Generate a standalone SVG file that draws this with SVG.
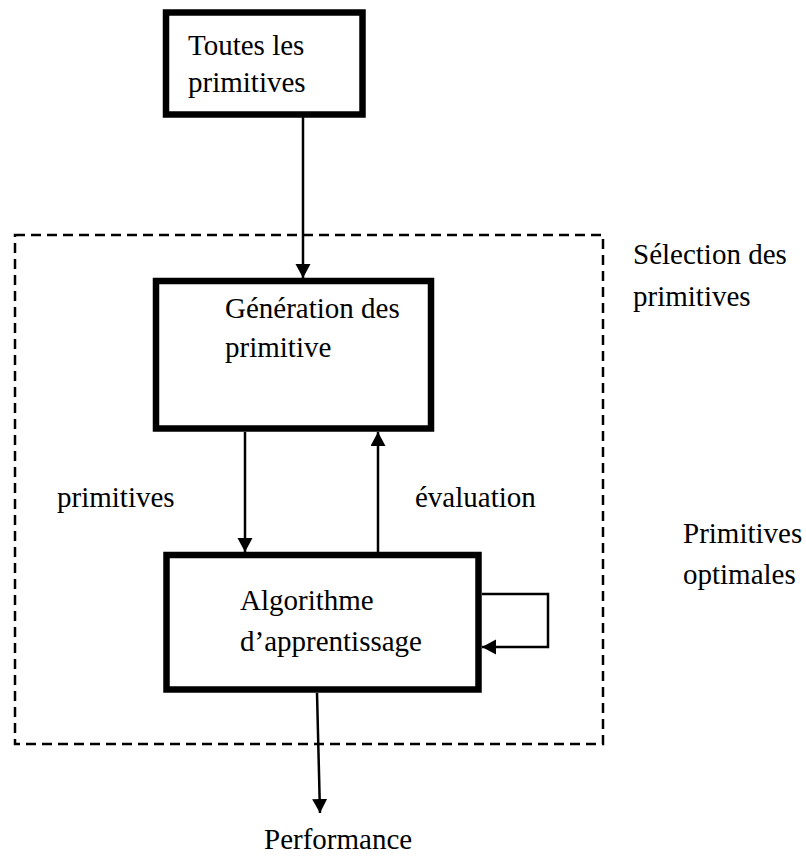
<svg xmlns="http://www.w3.org/2000/svg" width="806" height="857" viewBox="0 0 806 857">
<style>
.box{fill:#fff;stroke:#000;stroke-width:6.5}
.t{font-family:"Liberation Serif","Times New Roman",serif;font-size:29px;fill:#000}
.c{fill:none;stroke:#000;stroke-width:2.5}
.d{fill:none;stroke:#000;stroke-width:2.5;stroke-dasharray:10 6}
</style>
<defs>
<marker id="ah" markerUnits="userSpaceOnUse" markerWidth="16" markerHeight="16" refX="14" refY="7.5" orient="auto">
<path d="M0,0 L14,7.5 L0,15 Z" fill="#000"/>
</marker>
</defs>
<g id="selection">
<rect class="d" x="15" y="235" width="588" height="509"/>
<text class="t" x="633" y="264">Sélection des</text>
<text class="t" x="633" y="306">primitives</text>
</g>
<g id="toutes">
<rect class="box" x="166" y="12.5" width="196.5" height="102"/>
<text class="t" x="188" y="55">Toutes les</text>
<text class="t" x="188" y="92">primitives</text>
</g>
<g id="generation">
<rect class="box" x="156" y="281" width="275" height="147.5"/>
<text class="t" x="225" y="318">Génération des</text>
<text class="t" x="225" y="357">primitive</text>
</g>
<g id="algorithme">
<rect class="box" x="166.5" y="555" width="312" height="134.5"/>
<text class="t" x="240" y="610">Algorithme</text>
<text class="t" x="240" y="651">d’apprentissage</text>
</g>
<g id="labels">
<text class="t" x="57" y="507">primitives</text>
<text class="t" x="415" y="507">évaluation</text>
<text class="t" x="683" y="543">Primitives</text>
<text class="t" x="683" y="584">optimales</text>
<text class="t" x="264" y="849">Performance</text>
</g>
<g id="connectors">
<line class="c" x1="303" y1="117" x2="303" y2="278" marker-end="url(#ah)"/>
<line class="c" x1="245" y1="432" x2="245" y2="552" marker-end="url(#ah)"/>
<line class="c" x1="378" y1="552" x2="378" y2="432" marker-end="url(#ah)"/>
<polyline class="c" points="482,594 548,594 548,647 482,647" marker-end="url(#ah)"/>
<line class="c" x1="317" y1="693" x2="320" y2="813" marker-end="url(#ah)"/>
</g>
</svg>
